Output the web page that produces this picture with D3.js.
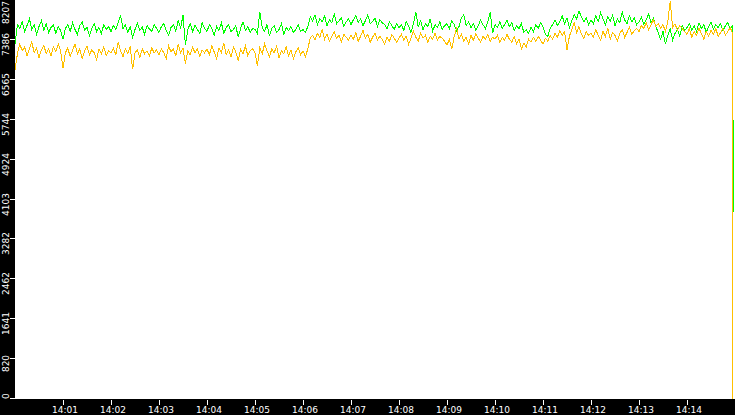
<head>
    <meta charset="utf-8">
    <title>Throughput</title>
    <script src="https://d3js.org/d3.v7.min.js" charset="utf-8"></script>
    <style>
        body { margin: 0; background: #000; }
        svg { display: block; }
        .axis text { font-family: 'DejaVu Sans', sans-serif; font-size: 9px; fill: #fff; }
        .axis line { stroke: #fff; shape-rendering: crispEdges; }
        .axis path { display: none; }
        .line { fill: none; stroke-width: 1; shape-rendering: crispEdges; }
    </style>
</head>

<body>
    <div class="chart"></div>
    <script type="text/javascript">

        // one sample every 3 s from 14:00:00; each series ends with a drop right at the end
        const startTime = '14:00:00'
        const stepSeconds = 3
        const greenEnd = '14:14:58'
        const orangeEnd = '14:14:57'

        const greenValues = [
            7290, 7700, 7620, 7760, 7560, 7680, 7820, 7600, 7700, 7500, 7660, 7780, 7590, 7720, 7540, 7640, 7700, 7520, 7660, 7580,
            7400, 7620, 7700, 7560, 7740, 7600, 7500, 7680, 7760, 7580, 7650, 7470, 7620, 7720, 7560, 7640, 7520, 7700, 7600, 7660,
            7560, 7680, 7600, 7740, 7880, 7620, 7700, 7540, 7660, 7440, 7600, 7720, 7580, 7650, 7500, 7680, 7610, 7560, 7700, 7620,
            7540, 7660, 7720, 7580, 7480, 7640, 7700, 7560, 7800, 7620, 7900, 7280, 7600, 7720, 7560, 7680, 7600, 7520, 7740, 7620,
            7560, 7700, 7620, 7480, 7660, 7580, 7740, 7520, 7640, 7700, 7560, 7600, 7680, 7440, 7620, 7760, 7580, 7660, 7540, 7620,
            7600, 7520, 7960, 7640, 7560, 7700, 7480, 7620, 7680, 7540, 7600, 7720, 7500, 7640, 7580, 7660, 7540, 7600, 7700, 7560,
            7600, 7540, 7660, 7860, 7780, 7900, 7700, 7820, 7760, 7880, 7680, 7800, 7740, 7920, 7720, 7780, 7840, 7660, 7760, 7820,
            7700, 7800, 7880, 7740, 7820, 7680, 7780, 7900, 7720, 7760, 7840, 7660, 7800, 7740, 7700, 7620, 7760, 7680, 7600, 7720,
            7640, 7700, 7580, 7760, 7680, 7540, 7720, 7960, 7660, 7780, 7600, 7720, 7660, 7820, 7560, 7700, 7640, 7760, 7600, 7680,
            7720, 7620, 7780, 7700, 7580, 7660, 7840, 7900, 7680, 7760, 7640, 7720, 7580, 7680, 7800, 7700, 7620, 7760, 7960, 7520,
            7700, 7640, 7760, 7620, 7700, 7800, 7660, 7740, 7580, 7680, 7620, 7720, 7540, 7600, 7520, 7640, 7560, 7700, 7620, 7740,
            7660, 7500, 7460, 7620, 7700, 7800, 7680, 7760, 7880, 7720, 7840, 7640, 7780, 7900, 7820, 7980, 7860, 7760, 7840, 7700,
            7800, 7720, 7880, 7760, 7940, 7820, 7700, 7860, 7760, 7900, 7680, 7820, 7740, 7960, 7800, 7720, 7880, 7760, 7840, 7700,
            7760, 7860, 7700, 7800, 7920, 7740, 7840, 7660, 7540, 7400, 7560, 7300, 7480, 7620, 7380, 7520, 7600, 7460, 7680, 7580,
            7640, 7720, 7580, 7680, 7560, 7740, 7620, 7700, 7540, 7660, 7760, 7600, 7700, 7640, 7720, 7580, 7680, 7740, 7620, 7680,
            3850
        ]

        const orangeValues = [
            6760, 7100, 7300, 7160, 7240, 7060, 7200, 7340, 7120, 7220, 7020, 7180, 7280, 7100, 7200, 7060, 7240, 7140, 7300, 7160,
            6800, 7120, 7220, 7040, 7180, 7300, 7100, 7200, 7000, 7160, 7260, 7080, 7180, 7120, 6980, 7200, 7100, 7240, 7060, 7160,
            7120, 7220, 7080, 7340, 7160, 7040, 7200, 7100, 7260, 6780, 7120, 7180, 7020, 7200, 7100, 7160, 7060, 7220, 7120, 7180,
            7080, 7200, 7120, 7000, 7260, 7140, 7200, 7060, 7300, 7120, 7220, 6900, 7160, 7080, 7240, 7120, 7200, 7040, 7180, 7120,
            7200, 7080, 7260, 7140, 7000, 7220, 7120, 7320, 7080, 7180, 7040, 7240, 7140, 6960, 7200, 7100, 7260, 7060, 7160, 7200,
            7120, 6860, 7220, 7100, 7300, 7160, 7040, 7200, 7120, 7260, 7020, 7160, 7100, 7240, 7060, 7180, 7000, 7140, 7220, 7080,
            7160, 7040, 7200, 7420, 7480, 7380, 7520, 7440, 7600, 7400, 7500, 7360, 7460, 7560, 7420, 7480, 7340, 7500, 7440, 7380,
            7480, 7400, 7540, 7360, 7460, 7580, 7420, 7500, 7340, 7440, 7520, 7380, 7460, 7400, 7300, 7440, 7360, 7500, 7420, 7340,
            7420, 7500, 7380, 7460, 7300, 7420, 7560, 7440, 7360, 7520, 7420, 7480, 7340, 7460, 7400, 7520, 7380, 7460, 7420, 7360,
            7280, 7400, 7200, 7460, 7620, 7400, 7500, 7360, 7440, 7300, 7480, 7380, 7520, 7420, 7340, 7460, 7400, 7500, 7360, 7440,
            7400, 7480, 7340, 7440, 7380, 7500, 7400, 7340, 7460, 7300, 7400, 7200, 7320, 7240, 7400, 7340, 7440, 7360, 7460, 7380,
            7300, 7420, 7360, 7480, 7400, 7520, 7440, 7580, 7480, 7560, 7180, 7460, 7600, 7740, 7540, 7660, 7500, 7420, 7560, 7480,
            7520, 7440, 7600, 7480, 7380, 7560, 7460, 7620, 7400, 7540, 7480, 7360, 7520, 7600, 7440, 7540, 7640, 7500, 7580, 7620,
            7560, 7680, 7620, 7740, 7600, 7700, 7800, 7660, 7720, 7620, 7700, 7560, 7760, 8180, 7640, 7720, 7580, 7680, 7620, 7560,
            7500, 7620, 7440, 7560, 7480, 7620, 7520, 7400, 7560, 7460, 7580, 7500, 7620, 7460, 7540, 7620, 7480, 7560, 7640, 7520,
            0
        ]

        const xTickLabels = ['14:01', '14:02', '14:03', '14:04', '14:05', '14:06', '14:07',
            '14:08', '14:09', '14:10', '14:11', '14:12', '14:13', '14:14']
        const yTickLabels = [0, 820, 1641, 2462, 3282, 4103, 4924, 5744, 6565, 7386, 8207]

        const w = 735
        const h = 415
        const left = 15
        const plotBottom = 399
        const yMax = 8207

        const parseTime = d3.timeParse('%H:%M:%S')
        const parseTick = d3.timeParse('%H:%M')
        const t0 = parseTime(startTime)

        const timesFor = (values, end) => values.map((d, i) =>
            i === values.length - 1 ? parseTime(end) : new Date(t0.getTime() + i * stepSeconds * 1000))

        const svg = d3.select('.chart')
            .append('svg')
            .attr('width', w)
            .attr('height', h)

        svg.append('rect')
            .attr('width', w)
            .attr('height', h)
            .attr('fill', '#000')

        svg.append('rect')
            .attr('x', left)
            .attr('y', 0)
            .attr('width', w - left)
            .attr('height', plotBottom)
            .attr('fill', '#fff')

        const xScale = d3.scaleTime()
            .domain([t0, new Date(t0.getTime() + 15 * 60 * 1000)])
            .range([left, w])

        const yScale = d3.scaleLinear()
            .domain([0, yMax])
            .range([plotBottom, 0])

        svg.append('clipPath')
            .attr('id', 'plot')
            .append('rect')
            .attr('x', left)
            .attr('y', 0)
            .attr('width', w - left)
            .attr('height', plotBottom)

        const line = (values, end) => {
            const times = timesFor(values, end)
            return d3.line()
                .x((d, i) => xScale(times[i]))
                .y((d) => yScale(d))(values)
        }

        svg.append('path')
            .attr('class', 'line')
            .attr('clip-path', 'url(#plot)')
            .attr('stroke', '#00ff00')
            .attr('d', line(greenValues, greenEnd))

        svg.append('path')
            .attr('class', 'line')
            .attr('clip-path', 'url(#plot)')
            .attr('stroke', '#ffc000')
            .attr('d', line(orangeValues, orangeEnd))

        // x axis in the black strip at the bottom
        const xAxis = d3.axisBottom(xScale)
            .tickValues(xTickLabels.map((d) => parseTick(d)))
            .tickFormat(d3.timeFormat('%H:%M'))
            .tickSize(5)
            .tickSizeOuter(0)
            .tickPadding(2)

        svg.append('g')
            .attr('class', 'axis')
            .attr('transform', 'translate(0,' + (plotBottom + 0.5) + ')')
            .call(xAxis)
            .selectAll('text')
            .attr('dx', 1.5)

        // y axis: rotated labels left of the ticks, kept inside the strip
        const yAxis = d3.axisLeft(yScale)
            .tickValues(yTickLabels)
            .tickFormat((d) => d)
            .tickSize(5)
            .tickSizeOuter(0)

        const gy = svg.append('g')
            .attr('class', 'axis')
            .attr('transform', 'translate(' + left + ',0)')
            .call(yAxis)

        gy.selectAll('.tick')
            .attr('transform', (d) => 'translate(0,' + (Math.round(yScale(d)) - 0.5) + ')')

        gy.selectAll('.tick text')
            .attr('x', null)
            .attr('dy', null)
            .attr('text-anchor', 'middle')
            .attr('transform', function (d) {
                const len = this.getComputedTextLength()
                const ty = Math.round(yScale(d)) - 0.5
                let cy = ty + 5
                cy = Math.max(len / 2 + 1, Math.min(plotBottom - len / 2, cy))
                return 'translate(-6,' + (cy - ty) + ') rotate(-90)'
            })

    </script>
</body>
